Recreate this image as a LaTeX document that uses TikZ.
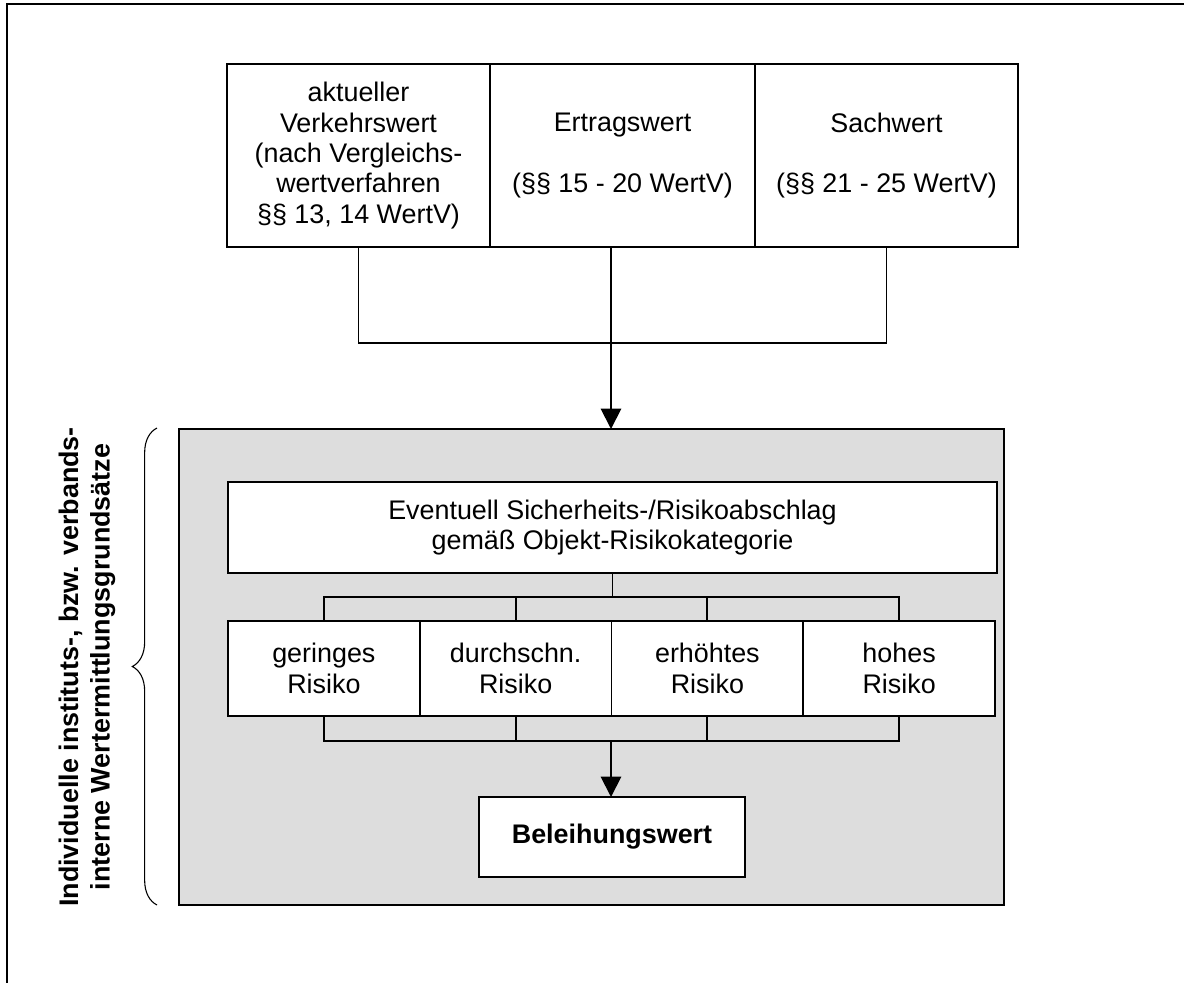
\documentclass[tikz,border=0pt]{standalone}
\usepackage{fontspec}
\setmainfont{Liberation Sans}
\usetikzlibrary{arrows.meta,decorations.pathreplacing,positioning}
\definecolor{panelgray}{RGB}{221,221,221}
\def\u{0.0162cm}
\tikzset{
  wbox/.style={draw, line width=0.9pt, fill=white, anchor=north west, inner sep=0pt, outer sep=0pt, align=center},
  link/.style={line width=0.9pt},
  >={Triangle[length=3.3mm, width=3.3mm]}
}
\begin{document}
\begin{tikzpicture}[x=\u, y=-\u, font=\fontsize{12.4}{14}\selectfont, line join=miter]
  \useasboundingbox (0,0) rectangle (1184,983);
  % outer frame
  \draw[line width=1.3pt] (7,983) -- (7,4) -- (1184,4);
  % top row
  \node[wbox, minimum width=263*\u, minimum height=183*\u] (verkehr) at (227,64)
    {aktueller\\Verkehrswert\\(nach Vergleichs-\\wertverfahren\\§§ 13, 14 WertV)};
  \node[wbox, minimum width=265*\u, minimum height=183*\u] (ertrag) at (490,64)
    {Ertragswert\\[14pt](§§ 15 - 20 WertV)};
  \node[wbox, minimum width=263*\u, minimum height=183*\u] (sach) at (755,64)
    {Sachwert\\[14pt](§§ 21 - 25 WertV)};
  \coordinate (join) at (611,343);
  \draw[link] (verkehr.south) -- ++(0,96) -| (sach.south);
  % grey panel
  \node[wbox, fill=panelgray, minimum width=825*\u, minimum height=476*\u] (panel) at (179,429) {};
  \draw[link, ->] (ertrag.south -| join) -- (panel.north -| join);
  \node[wbox, minimum width=769*\u, minimum height=91*\u] (abschlag) at (228,482)
    {Eventuell Sicherheits-/Risikoabschlag\\gemäß Objekt-Risikokategorie};
  % risk classes
  \foreach \name/\word [count=\i] in {gering/geringes, durch/durchschn., erhoeht/erhöhtes, hoch/hohes}
    \node[wbox, minimum width=191.75*\u, minimum height=95*\u] (\name) at ({228+(\i-1)*191.75},621) {\word\\Risiko};
  \draw[link] (abschlag.south) -- ++(0,24);
  \draw[link] (gering.north) -- ++(0,-24) -| (hoch.north);
  \draw[link] (durch.north) -- ++(0,-24) (erhoeht.north) -- ++(0,-24);
  \draw[link] (gering.south) -- ++(0,25) -| (hoch.south);
  \draw[link] (durch.south) -- ++(0,25) (erhoeht.south) -- ++(0,25);
  \coordinate (merge) at (611,741);
  \node[wbox, font=\fontsize{12.4}{14}\selectfont\bfseries, minimum width=266*\u, minimum height=80*\u] (beleih) at (479,797) {Beleihungswert};
  \draw[link, ->] (merge) -- (merge |- beleih.north);
  % side label
  \draw[line width=0.5pt, decorate, decoration={brace, amplitude=0.4cm}] (157,905) -- (157,428);
  \node[rotate=90, align=center, font=\fontsize{12.4}{14.5}\selectfont\bfseries] (rules) at (87,667)
    {Individuelle instituts-, bzw. verbands-\\interne Wertermittlungsgrundsätze};
\end{tikzpicture}
\end{document}
